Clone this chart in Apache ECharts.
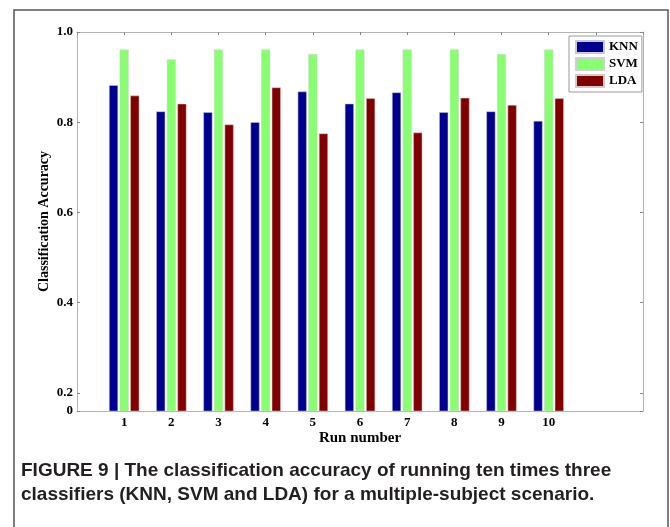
<!DOCTYPE html>
<html>
<head>
<meta charset="utf-8">
<script src="https://cdn.jsdelivr.net/npm/echarts@6/dist/echarts.min.js"></script>
<style>html,body{margin:0;padding:0;background:#fff}#c{width:670px;height:527px}</style>
</head>
<body>
<div id="c"></div>
<script>
const categories = ['0','1','2','3','4','5','6','7','8','9','10','11','12'];
const runLabels = ['1','2','3','4','5','6','7','8','9','10'];
const knn = [null,0.882,0.824,0.822,0.800,0.868,0.841,0.866,0.822,0.824,0.803,null,null];
const svm = [null,0.961,0.939,0.961,0.961,0.951,0.961,0.961,0.961,0.951,0.961,null,null];
const lda = [null,0.859,0.841,0.795,0.877,0.775,0.853,0.777,0.854,0.838,0.853,null,null];
const yTicks = [0.16,0.2,0.4,0.6,0.8,1.0];

const serif = '"Liberation Serif","Times New Roman",serif';
const axisGray = '#b4b4b4';
const chart = echarts.init(document.getElementById('c'));
chart.setOption({
  backgroundColor:'#fff',
  animation:false,
  grid:{left:77,right:27,top:32,bottom:116},
  legend:{
    orient:'vertical', left:569, top:36, padding:[4,4,4,6],
    itemWidth:28, itemHeight:12, itemGap:3, icon:'rect',
    borderColor:'#999', borderWidth:1, backgroundColor:'#fff',
    textStyle:{fontFamily:serif,fontWeight:'bold',fontSize:13,color:'#000',lineHeight:13},
    data:['KNN','SVM','LDA']
  },
  xAxis:[{
    type:'category', data:categories, boundaryGap:false,
    axisLine:{lineStyle:{color:axisGray}},
    axisTick:{show:false},
    axisLabel:{fontFamily:serif,fontWeight:'bold',fontSize:13,color:'#000',margin:5,interval:0,
      formatter:v=>runLabels.indexOf(v)>=0?v:''},
    name:'Run number', nameLocation:'middle', nameGap:20, nameMoveOverlap:false,
    nameTextStyle:{fontFamily:serif,fontWeight:'bold',fontSize:15,color:'#000'}
  },{
    type:'category', data:categories, boundaryGap:false, position:'top',
    axisLine:{lineStyle:{color:axisGray}},
    axisTick:{show:true,inside:true,length:3,interval:0,lineStyle:{color:'#888'}},
    axisLabel:{show:false}
  }],
  yAxis:[{
    type:'value', min:0.16, max:1.0,
    splitLine:{show:false},
    axisLine:{show:true,lineStyle:{color:axisGray}},
    axisTick:{show:true,inside:true,length:3,customValues:yTicks,lineStyle:{color:'#888'}},
    axisLabel:{customValues:yTicks,fontFamily:serif,fontWeight:'bold',fontSize:13,color:'#000',margin:4,
      formatter:v=>Math.abs(v-0.16)<1e-6?'0':v.toFixed(1)},
    name:'Classification Accuracy', nameLocation:'middle', nameGap:26, nameMoveOverlap:false,
    nameTextStyle:{fontFamily:serif,fontWeight:'bold',fontSize:14,color:'#000'}
  },{
    type:'value', min:0.16, max:1.0, position:'right',
    splitLine:{show:false},
    axisLine:{show:true,lineStyle:{color:axisGray}},
    axisTick:{show:true,inside:true,length:3,customValues:yTicks,lineStyle:{color:'#888'}},
    axisLabel:{show:false}
  }],
  series:[
    {name:'KNN',type:'bar',data:knn,barWidth:9,barGap:'18%',itemStyle:{color:'#00008f',borderColor:'#c8c8d8',borderWidth:0.5}},
    {name:'SVM',type:'bar',data:svm,barWidth:9,barGap:'18%',itemStyle:{color:'#88ff70',borderColor:'#d0d0d0',borderWidth:0.5}},
    {name:'LDA',type:'bar',data:lda,barWidth:9,barGap:'18%',itemStyle:{color:'#800000',borderColor:'#d8c8c8',borderWidth:0.5}}
  ],
  graphic:[
    {type:'rect',shape:{x:14,y:10,width:654,height:540},style:{fill:'none',stroke:'#555',lineWidth:1.5},silent:true},
    {type:'text',left:21,top:461,style:{text:'FIGURE 9 | The classification accuracy of running ten times three',
      font:'bold 19px "Liberation Sans",Arial,sans-serif',fill:'#231f20'}},
    {type:'text',left:21,top:485,style:{text:'classifiers (KNN, SVM and LDA) for a multiple-subject scenario.',
      font:'bold 19px "Liberation Sans",Arial,sans-serif',fill:'#231f20'}}
  ]
});
</script>
</body>
</html>
